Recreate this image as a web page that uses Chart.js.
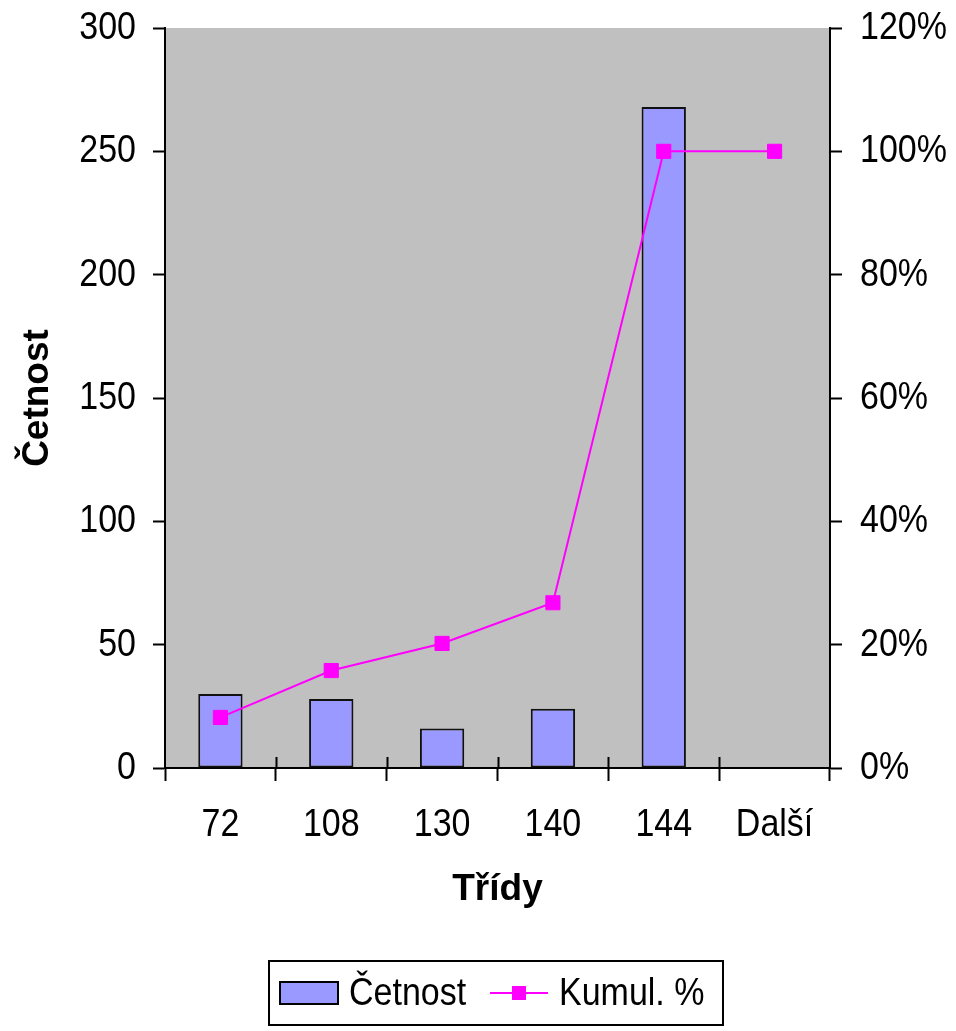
<!DOCTYPE html>
<html lang="cs">
<head>
<meta charset="utf-8">
<title>Četnost a kumulativní %</title>
<script src="https://cdn.jsdelivr.net/npm/chart.js@4/dist/chart.umd.min.js"></script>
<style>
  html, body { margin: 0; padding: 0; background: #ffffff; }
  canvas { display: block; }
</style>
</head>
<body>
<canvas id="chart" width="956" height="1031"></canvas>
<script>
// Histogram classes and their frequencies
const categories = ['72', '108', '130', '140', '144', 'Další'];
const counts = [30, 28, 16, 24, 268, null];
// Cumulative percentage per class
const cumulativePct = [8.2, 15.8, 20.2, 26.8, 100, 100];
const countTicks = [0, 50, 100, 150, 200, 250, 300];
const pctTicks = [0, 20, 40, 60, 80, 100, 120];

const FONT = '"Liberation Sans", Arial, sans-serif';
const LABEL_SIZE = 34;      // tick and legend text size
const LABEL_STRETCH = 1.16; // tall, slightly condensed look of the labels
const BAR_FILL = '#9999FF';
const LINE_COLOR = '#FF00FF';

// Draws one line of text stretched vertically about its anchor point
function tallText(ctx, text, x, y, align) {
  ctx.save();
  ctx.translate(x, y);
  ctx.scale(1, LABEL_STRETCH);
  ctx.font = LABEL_SIZE + 'px ' + FONT;
  ctx.fillStyle = '#000';
  ctx.textAlign = align;
  ctx.textBaseline = 'middle';
  ctx.fillText(text, 0, 0);
  ctx.restore();
}

// Grey plotting area behind the series
const plotBackground = {
  id: 'plotBackground',
  beforeDraw(chart) {
    const { ctx, chartArea: a } = chart;
    ctx.save();
    ctx.fillStyle = '#C0C0C0';
    ctx.fillRect(a.left, a.top, a.right - a.left, a.bottom - a.top);
    ctx.restore();
  }
};

// Category tick marks cross the x axis: add the part above the axis line
const crossTicks = {
  id: 'crossTicks',
  afterDraw(chart) {
    const { ctx } = chart;
    const x = chart.scales.x;
    const n = x.ticks.length;
    const step = (x.right - x.left) / n;
    ctx.save();
    ctx.strokeStyle = '#000';
    ctx.lineWidth = 2;
    ctx.beginPath();
    for (let i = 1; i < n; i++) {
      const px = Math.round(x.left + i * step) + 0.5;
      ctx.moveTo(px, x.top - 11);
      ctx.lineTo(px, x.top);
    }
    ctx.stroke();
    ctx.restore();
  }
};

// Tick labels of all three axes, placed from the scales' own tick positions
const axisLabels = {
  id: 'axisLabels',
  afterDraw(chart) {
    const { ctx } = chart;
    const { x, y, y1 } = chart.scales;
    y.ticks.forEach(t => tallText(ctx, t.label, y.right - 12 - 17, y.getPixelForValue(t.value), 'right'));
    y1.ticks.forEach(t => tallText(ctx, t.label, y1.left + 12 + 18, y1.getPixelForValue(t.value), 'left'));
    x.ticks.forEach((t, i) => tallText(ctx, t.label, x.getPixelForTick(i), x.top + 57, 'center'));
  }
};

// Boxed legend below the axis title
const boxedLegend = {
  id: 'boxedLegend',
  afterDraw(chart) {
    const { ctx } = chart;
    const bar = chart.data.datasets.find(d => d.type === 'bar');
    const line = chart.data.datasets.find(d => d.type === 'line');
    const box = { x: 269, y: 961, w: 454, h: 64 };
    const cy = box.y + box.h / 2;
    ctx.save();
    ctx.fillStyle = '#ffffff';
    ctx.fillRect(box.x, box.y, box.w, box.h);
    ctx.strokeStyle = '#000';
    ctx.lineWidth = 2;
    ctx.strokeRect(box.x, box.y, box.w, box.h);

    // bar swatch
    ctx.fillStyle = bar.backgroundColor;
    ctx.fillRect(280, cy - 11, 58, 22);
    ctx.strokeStyle = '#000';
    ctx.lineWidth = 2;
    ctx.strokeRect(280, cy - 11, 58, 22);
    tallText(ctx, bar.label, 349, cy + 1, 'left');

    // line swatch with marker
    ctx.strokeStyle = line.borderColor;
    ctx.lineWidth = 2;
    ctx.beginPath();
    ctx.moveTo(490, cy);
    ctx.lineTo(548, cy);
    ctx.stroke();
    ctx.fillStyle = line.borderColor;
    ctx.fillRect(512, cy - 7, 14, 14);
    tallText(ctx, line.label, 559, cy + 1, 'left');
    ctx.restore();
  }
};

// Fixed axis sizes keep the plot area where it belongs
function fixSize(prop, size) {
  return scale => {
    scale[prop] = size;
    scale.paddingTop = 0;
    scale.paddingBottom = 0;
    scale.paddingLeft = 0;
    scale.paddingRight = 0;
  };
}

const gridStyle = {
  drawOnChartArea: false,
  drawTicks: true,
  tickLength: 12,
  color: '#000',
  tickColor: '#000',
  tickWidth: 2
};

new Chart(document.getElementById('chart'), {
  data: {
    labels: categories,
    datasets: [
      {
        type: 'line',
        label: 'Kumul. %',
        data: cumulativePct,
        yAxisID: 'y1',
        order: 0,
        borderColor: LINE_COLOR,
        borderWidth: 2,
        tension: 0,
        fill: false,
        pointStyle: 'rect',
        pointRadius: 10,
        pointBackgroundColor: LINE_COLOR,
        pointBorderColor: LINE_COLOR,
        pointBorderWidth: 1
      },
      {
        type: 'bar',
        label: 'Četnost',
        data: counts,
        yAxisID: 'y',
        order: 1,
        backgroundColor: BAR_FILL,
        borderColor: '#111',
        borderWidth: 2,
        borderSkipped: false,
        barPercentage: 0.4,
        categoryPercentage: 1.0
      }
    ]
  },
  options: {
    responsive: false,
    animation: false,
    devicePixelRatio: 1,
    layout: { padding: { top: 28, left: 0, right: 0, bottom: 113 } },
    plugins: {
      legend: { display: false },
      tooltip: { enabled: false }
    },
    scales: {
      x: {
        grid: Object.assign({}, gridStyle, { offset: true, tickLength: 13 }),
        border: { display: true, color: '#000', width: 2 },
        ticks: { display: false },
        title: {
          display: true,
          text: 'Třídy',
          color: '#000',
          font: { family: FONT, size: 37, weight: 'bold' },
          padding: { top: 0, bottom: 6 }
        },
        afterFit: fixSize('height', 150)
      },
      y: {
        position: 'left',
        min: countTicks[0],
        max: countTicks[countTicks.length - 1],
        afterBuildTicks(scale) { scale.ticks = countTicks.map(v => ({ value: v })); },
        grid: gridStyle,
        border: { display: true, color: '#000', width: 2 },
        ticks: { display: false },
        title: {
          display: true,
          text: 'Četnost',
          color: '#000',
          font: { family: FONT, size: 37, weight: 'bold' },
          padding: { top: 16, bottom: 0 }
        },
        afterFit: fixSize('width', 165)
      },
      y1: {
        position: 'right',
        min: pctTicks[0],
        max: pctTicks[pctTicks.length - 1],
        afterBuildTicks(scale) { scale.ticks = pctTicks.map(v => ({ value: v })); },
        grid: gridStyle,
        border: { display: true, color: '#000', width: 2 },
        ticks: { display: false, callback: v => v + '%' },
        afterFit: fixSize('width', 126)
      }
    }
  },
  plugins: [plotBackground, crossTicks, axisLabels, boxedLegend]
});
</script>
</body>
</html>
